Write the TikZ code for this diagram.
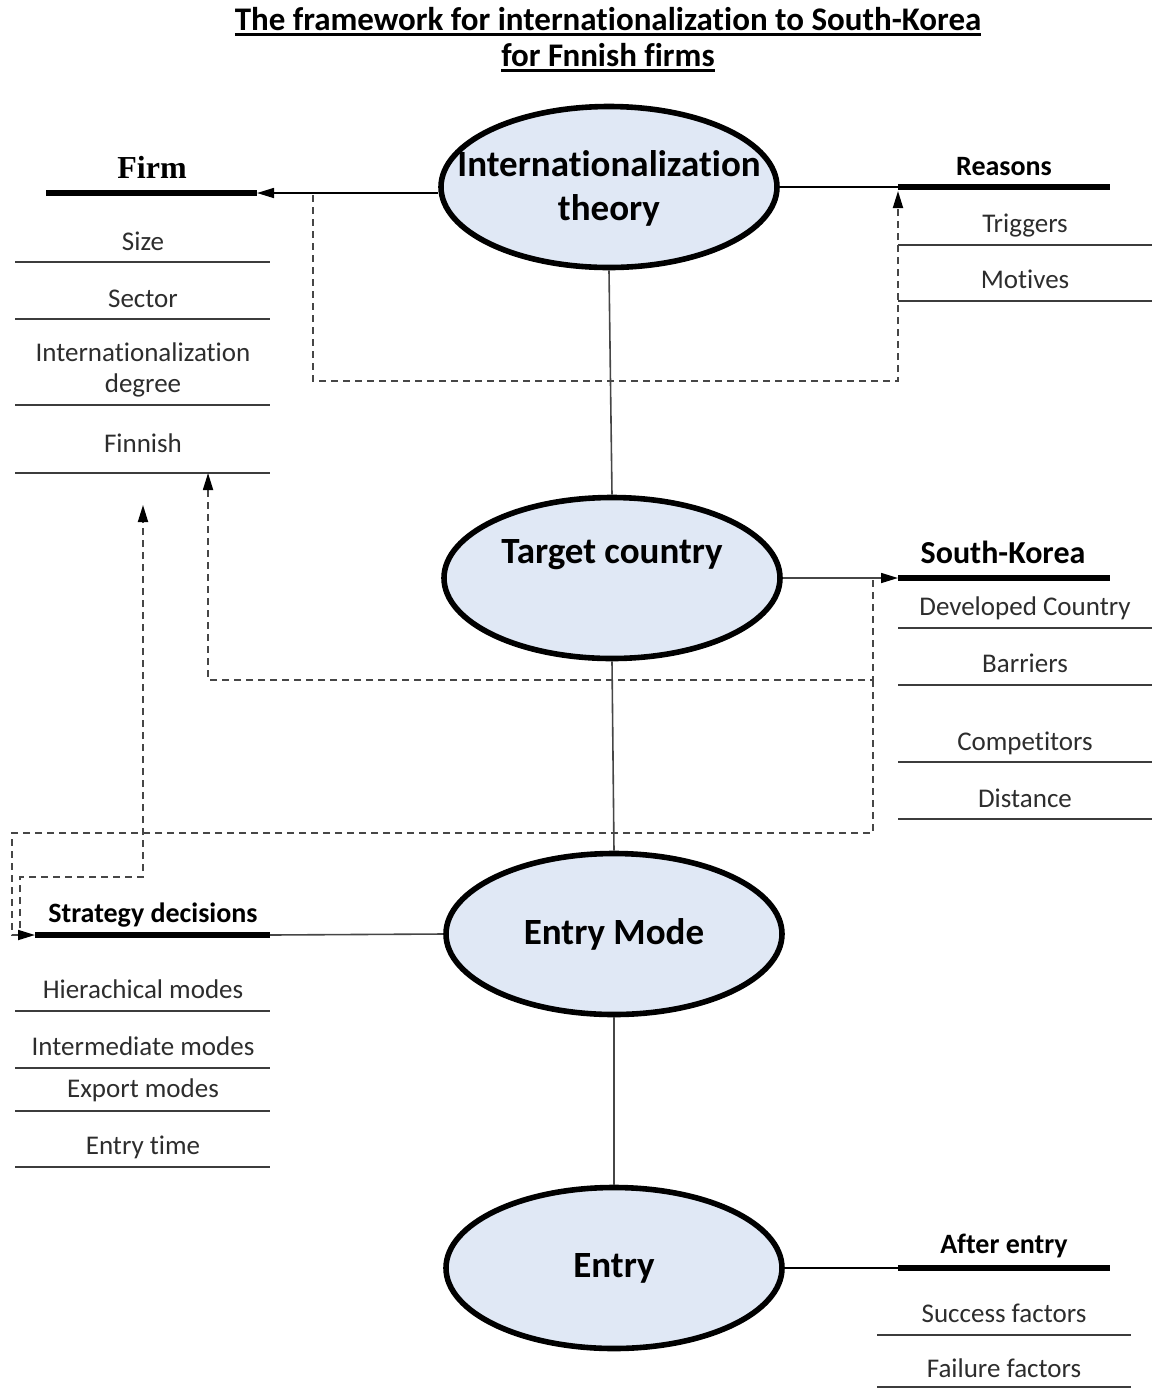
\documentclass[tikz,border=0pt]{standalone}
\usepackage{fontspec}
\setmainfont{Carlito}[Ligatures = NoCommon]
\newfontfamily\firmfont{Liberation Serif}
\usetikzlibrary{arrows.meta, shapes.geometric}
\newcommand{\ultext}[1]{\sbox0{#1}\rlap{\usebox0}\rule[-2.8pt]{\wd0}{1.2pt}}

\begin{document}
\begin{tikzpicture}[x = 0.5pt, y = -0.5pt,
    phase/.style = {draw, ellipse, line width = 2.8pt, fill = myellipseblue, minimum width = 168pt, minimum height = 80.5pt, inner sep = 0pt, font = \fontsize{18.5}{22}\selectfont\bfseries},
    phasetext/.style = {align = center, font = \fontsize{18.5}{22}\selectfont\bfseries},
    heading/.style = {anchor = base, font = \fontsize{14}{16}\selectfont\bfseries},
    item/.style = {anchor = base, align = center, text = mytextgray, font = \fontsize{13.5}{15.5}\selectfont},
    headbar/.style = {draw, line width = 3pt},
    itemline/.style = {draw = mylinegray, line width = 0.8pt},
    conn/.style = {draw = myconngray, line width = 0.8pt},
    dashconn/.style = {draw = mydashgray, line width = 0.9pt, dash pattern = on 3.5pt off 2.5pt},
    endtip/.style = {-{Triangle[length = 8.5pt, width = 5pt, color = black]}}]
        \definecolor{myellipseblue}{RGB}{224,232,245}
        \definecolor{mytextgray}{RGB}{45,45,45}
        \definecolor{mylinegray}{RGB}{60,60,60}
        \definecolor{myconngray}{RGB}{70,70,70}
        \definecolor{mydashgray}{RGB}{70,70,70}
        \useasboundingbox (0, 0) rectangle (1155, 1389);

        \node[anchor = base, font = \fontsize{16.5}{18}\selectfont\bfseries] at (608, 30) (titlea) {\ultext{The framework for internationalization to South-Korea}};
        \node[anchor = base, font = \fontsize{16.5}{18}\selectfont\bfseries] at (608, 66) (titleb) {\ultext{for Fnnish firms}};

        % the four phases
        \node[phase] at (609, 187) (theory) {};
        \node[phasetext] at (609, 188) (theorytext) {Internationalization\\theory};
        \node[phase] at (612, 578) (country) {};
        \node[phasetext] at (612, 555) (countrytext) {Target country};
        \node[phase] at (614, 934) (mode) {Entry Mode};
        \node[phase] at (614, 1268) (entry) {Entry};

        % Firm
        \node[heading, font = \fontsize{16}{18}\selectfont\firmfont\bfseries] at (152, 178) (firm) {Firm};
        \path[headbar] (46, 193) -- (257, 193) coordinate (firmbar);
        \node[item] at (143, 250) (size) {Size};
        \path[itemline] (15, 262) -- (270, 262);
        \node[item] at (143, 307) (sector) {Sector};
        \path[itemline] (15, 319) -- (270, 319);
        \node[item, anchor = center] at (143, 370) (degree) {Internationalization\\degree};
        \path[itemline] (15, 405) -- (270, 405);
        \node[item] at (143, 452) (finnish) {Finnish};
        \path[itemline] (15, 473) -- (270, 473) coordinate[pos = 0.757] (finnishline);

        % Reasons
        \node[heading] at (1004, 175) (reasons) {Reasons};
        \coordinate (reasonsbar) at (898, 187);
        \path[headbar] (reasonsbar) -- (1110, 187);
        \node[item] at (1025, 232) (triggers) {Triggers};
        \path[itemline] (898, 245) -- (1152, 245);
        \node[item] at (1025, 288) (motives) {Motives};
        \path[itemline] (898, 301) -- (1152, 301);

        % South-Korea
        \node[heading, font = \fontsize{16}{18}\selectfont\bfseries] at (1003, 563) (korea) {South-Korea};
        \coordinate (koreabar) at (898, 578);
        \path[headbar] (koreabar) -- (1110, 578);
        \node[item] at (1025, 615) (developed) {Developed Country};
        \path[itemline] (898, 628) -- (1152, 628);
        \node[item] at (1025, 672) (barriers) {Barriers};
        \path[itemline] (898, 685) -- (1152, 685);
        \node[item] at (1025, 750) (competitors) {Competitors};
        \path[itemline] (898, 762) -- (1152, 762);
        \node[item] at (1025, 807) (distance) {Distance};
        \path[itemline] (898, 819) -- (1152, 819);

        % Strategy decisions
        \node[heading] at (153, 922) (strategy) {Strategy decisions};
        \coordinate (strategybar) at (35, 935);
        \path[headbar] (strategybar) -- (270, 935) coordinate (strategyend);
        \node[item] at (143, 998) (hierachical) {Hierachical modes};
        \path[itemline] (15, 1011) -- (270, 1011);
        \node[item] at (143, 1055) (intermediate) {Intermediate modes};
        \path[itemline] (15, 1068) -- (270, 1068);
        \node[item] at (143, 1097) (export) {Export modes};
        \path[itemline] (15, 1111) -- (270, 1111);
        \node[item] at (143, 1154) (entrytime) {Entry time};
        \path[itemline] (15, 1167) -- (270, 1167);

        % After entry
        \node[heading] at (1004, 1253) (after) {After entry};
        \coordinate (afterbar) at (898, 1268);
        \path[headbar] (afterbar) -- (1110, 1268);
        \node[item] at (1004, 1322) (success) {Success factors};
        \path[itemline] (877, 1335) -- (1131, 1335);
        \node[item] at (1004, 1377) (failure) {Failure factors};
        \path[itemline] (877, 1387) -- (1131, 1387);

        % dashed feedback paths
        \coordinate (firmfork) at (313, 195);
        \coordinate (koreafork) at (873, 580);
        \coordinate (firmhint) at (143, 505);
        \path[dashconn, endtip, shorten > = 2pt] (firmfork) -- (313, 381) -| (reasonsbar);
        \path[dashconn, endtip] (koreafork) -- (873, 680) -| (finnishline);
        \path[dashconn, endtip] (873, 680) -- (873, 833) -| (12, 935) -- (strategybar);
        \path[dashconn, endtip] (20, 928) |- (143, 877) -- (firmhint);

        % solid connectors
        \path[conn, draw = black, endtip] (theory.west |- firmbar) -- (firmbar);
        \path[conn, draw = black] (theory.east) -- (reasonsbar);
        \path[conn] (theory.south) -- (country.north);
        \path[conn, endtip] (country.east) -- (koreabar);
        \path[conn] (country.south) -- (mode.north);
        \path[conn] (mode.west) -- (strategyend);
        \path[conn] (mode.south) -- (entry.north);
        \path[conn, draw = black] (entry.east) -- (afterbar);
\end{tikzpicture}
\end{document}
